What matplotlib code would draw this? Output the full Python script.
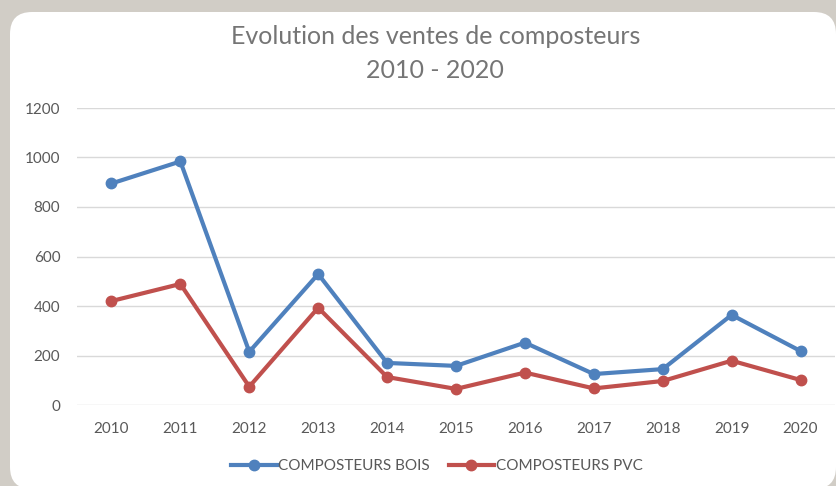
import matplotlib
matplotlib.use('Agg')
import matplotlib.pyplot as plt
from matplotlib.patches import FancyBboxPatch

# Data
years = ['2010', '2011', '2012', '2013', '2014', '2015', '2016', '2017', '2018', '2019', '2020']
bois = [895, 984, 215, 529, 170, 158, 252, 125, 145, 364, 218]
pvc = [420, 489, 74, 393, 113, 65, 131, 67, 97, 179, 101]
yticks = [0, 200, 400, 600, 800, 1000, 1200]

plt.rcParams['font.family'] = ['Lato', 'DejaVu Sans']

fig = plt.figure(figsize=(8.37, 4.86), dpi=100, facecolor='#D1CDC6')

# white rounded panel (inch units)
panel = FancyBboxPatch((0.10, -0.03), 8.26, 4.77,
                       boxstyle='round,pad=0,rounding_size=0.22',
                       transform=fig.dpi_scale_trans, facecolor='white',
                       edgecolor='none', zorder=-5)
fig.patches.append(panel)

ax = fig.add_axes([77 / 837, 1 - 405 / 486, (835 - 77) / 837, (405 - 108) / 486])
ax.set_facecolor('none')
ax.set_zorder(2)

x = list(range(len(years)))
ax.plot(x, bois, color='#4F81BD', lw=3, marker='o', ms=7.5, label='COMPOSTEURS BOIS', zorder=3)
ax.plot(x, pvc, color='#C0504D', lw=3, marker='o', ms=7.5, label='COMPOSTEURS PVC', zorder=3)

ax.set_xlim(-0.5, len(years) - 0.5)
ax.set_ylim(0, 1200)
ax.set_xticks(x)
ax.set_xticklabels(years)
ax.set_yticks(yticks)
ax.grid(axis='y', color='#D9D9D9', lw=1)
ax.set_axisbelow(True)
for s in ax.spines.values():
    s.set_visible(False)
ax.tick_params(length=0, colors='#595959', labelsize=11)
ax.tick_params(axis='x', pad=12)
ax.tick_params(axis='y', pad=12)

fig.text(0.52, 1 - 37 / 486, 'Evolution des ventes de composteurs', ha='center', va='center',
         fontsize=18, color='#757575')
fig.text(0.52, 1 - 70 / 486, '2010 - 2020', ha='center', va='center',
         fontsize=18, color='#757575')

fig.legend(loc='center', bbox_to_anchor=(0.522, 1 - 466 / 486), ncol=2, frameon=False,
           fontsize=11, labelcolor='#595959', handlelength=3.0, columnspacing=1.2,
           handletextpad=0.1)

fig.savefig('out.png', dpi=100, facecolor=fig.get_facecolor())
